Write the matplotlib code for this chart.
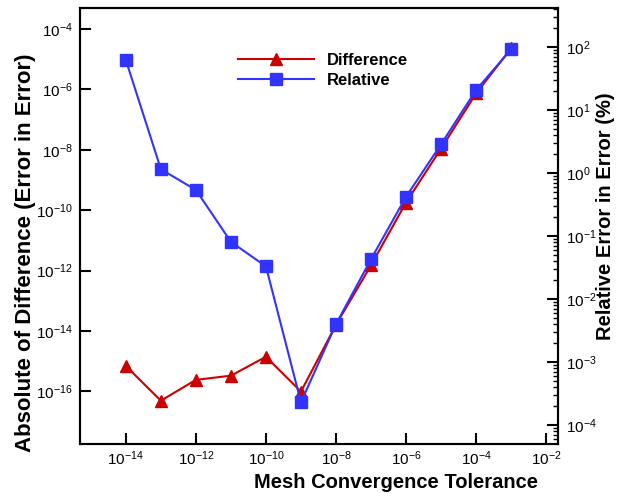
import numpy as np
import matplotlib
matplotlib.use('Agg')
import matplotlib.pyplot as plt
from matplotlib.ticker import LogLocator, NullFormatter, NullLocator

plt.rcParams['font.family'] = ['Liberation Sans', 'DejaVu Sans']
plt.rcParams['mathtext.default'] = 'regular'
plt.rcParams['axes.unicode_minus'] = False

### Data
tolerance = [1e-14, 1e-13, 1e-12, 1e-11, 1e-10, 1e-9, 1e-8, 1e-7, 1e-6, 1e-5, 1e-4, 1e-3]
difference = [6.9e-16, 4.9e-17, 2.4e-16, 3.3e-16, 1.4e-15, 9.8e-17,
              1.6e-14, 1.5e-12, 1.8e-10, 1.1e-8, 7.4e-7, 2.3e-5]
relative = [62.0, 1.15, 0.54, 0.081, 0.033, 2.3e-4,
            0.004, 0.043, 0.42, 2.86, 20.8, 92.0]

x_ticks = [1e-14, 1e-12, 1e-10, 1e-8, 1e-6, 1e-4, 1e-2]
left_ticks = [1e-16, 1e-14, 1e-12, 1e-10, 1e-8, 1e-6, 1e-4]
right_ticks = [1e-4, 1e-3, 1e-2, 1e-1, 1e0, 1e1, 1e2]

red = '#cc0000'
blue = '#3333ff'

fig = plt.figure(figsize=(6.17, 4.94), dpi=100)
ax = fig.add_axes([80/617, 50/494, 478/617, 436/494])
ax2 = ax.twinx()

l1, = ax.plot(tolerance, difference, color=red, lw=1.5, marker='^', ms=8.5,
              mec=red, mfc=red, label='Difference')
l2, = ax2.plot(tolerance, relative, color=blue, lw=1.5, marker='s', ms=8.2,
               mec=blue, mfc=blue, label='Relative')

ax.set_xscale('log')
ax.set_yscale('log')
ax2.set_yscale('log')
ax.set_xlim(10**-15.31, 10**-1.66)
ax.set_ylim(10**-17.745, 10**-3.30)
ax2.set_ylim(10**-4.30, 10**2.62)

ax.set_xticks(x_ticks)
ax.xaxis.set_minor_locator(NullLocator())
ax.set_yticks(left_ticks)
ax.yaxis.set_minor_locator(NullLocator())
ax2.set_yticks(right_ticks)
ax2.yaxis.set_minor_locator(LogLocator(base=10, subs=np.arange(2, 10), numticks=50))
ax2.yaxis.set_minor_formatter(NullFormatter())

ax.tick_params(axis='x', which='major', direction='in', length=8, width=1.5,
               labelsize=11, pad=4, top=False)
ax.tick_params(axis='y', which='major', direction='in', length=8, width=1.5,
               labelsize=11, pad=5, right=False)
ax2.tick_params(axis='y', which='major', direction='in', length=8, width=1.5,
                labelsize=11, pad=6)
ax2.tick_params(axis='y', which='minor', direction='in', length=3.5, width=1)

for a in (ax, ax2):
    for s in a.spines.values():
        s.set_linewidth(1.5)

ax.set_xlabel('Mesh Convergence Tolerance', fontsize=14.5, fontweight='bold')
ax.set_ylabel('Absolute of Difference (Error in Error)', fontsize=16, fontweight='bold')
ax2.set_ylabel('Relative Error in Error (%)', fontsize=14.5, fontweight='bold')
### label anchors: xlabel top edge, left ylabel right edge, right ylabel left edge
ax.xaxis.set_label_coords(316/478, (444 - 473)/436)
ax.yaxis.set_label_coords((36 - 80)/478, (444 - 253)/436)
ax2.yaxis.set_label_coords((596 - 80)/478, (444 - 216)/436)

leg = ax2.legend(handles=[l1, l2], loc='upper left', frameon=False,
                 bbox_to_anchor=(238/617, 1 - 53/494), bbox_transform=fig.transFigure,
                 prop={'weight': 'bold', 'size': 12}, handlelength=4.55,
                 handletextpad=0.8, labelspacing=0.28, borderpad=0, borderaxespad=0)

fig.savefig('out.png', dpi=100)
